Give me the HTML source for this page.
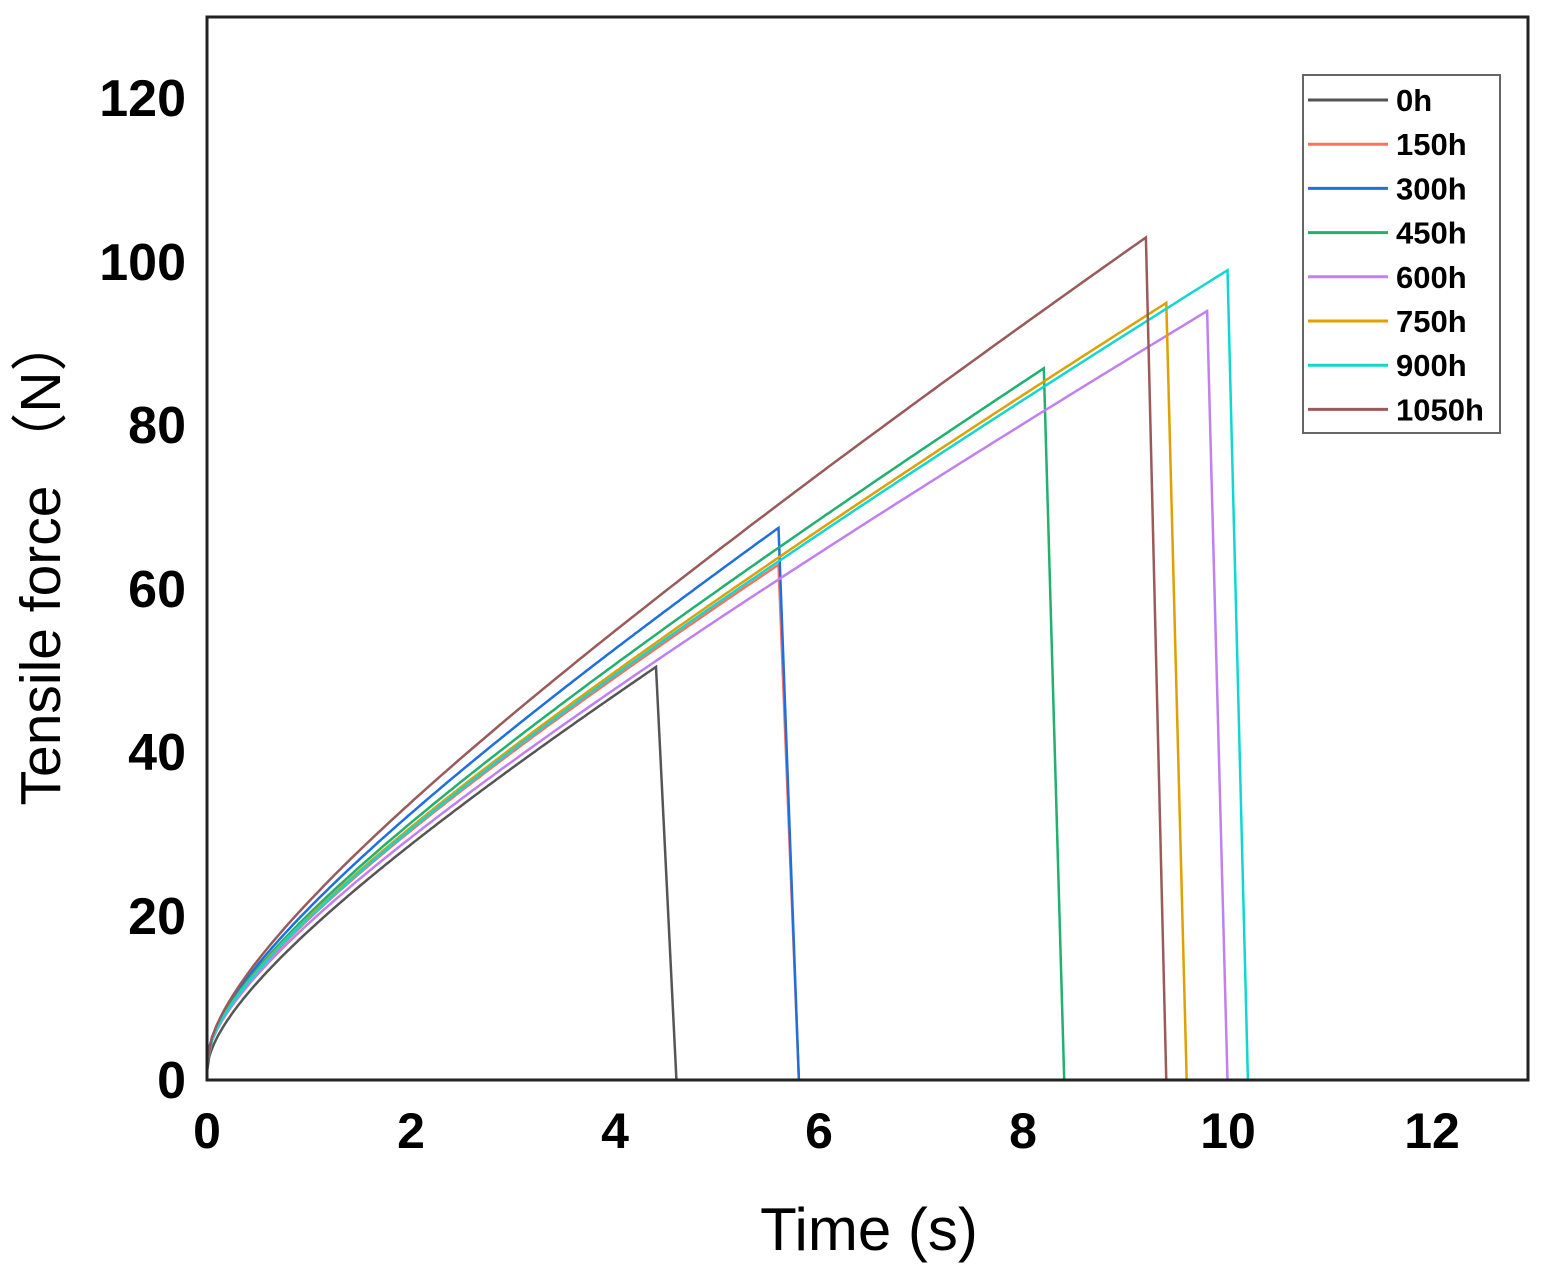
<!DOCTYPE html>
<html><head><meta charset="utf-8"><style>
body{margin:0;background:#fff;}
svg{display:block;font-family:"Liberation Sans",Arial,sans-serif;}
</style></head><body>
<svg id="s" width="1546" height="1273" xmlns="http://www.w3.org/2000/svg">
<g font-size="52" font-weight="bold" text-anchor="end" fill="#000">
<text x="186" y="1098">0</text><text x="186" y="934">20</text><text x="186" y="770">40</text>
<text x="186" y="607">60</text><text x="186" y="443">80</text><text x="186" y="280">100</text><text x="186" y="116">120</text>
</g>
<g font-size="50" font-weight="bold" text-anchor="middle" fill="#000">
<text x="207" y="1148">0</text><text x="411" y="1148">2</text><text x="615" y="1148">4</text>
<text x="819" y="1148">6</text><text x="1023" y="1148">8</text><text x="1228" y="1148">10</text><text x="1432" y="1148">12</text>
</g>
<text x="869" y="1250" font-size="60" text-anchor="middle">Time (s)</text>
<text transform="translate(60,560) rotate(-90)" font-size="57" text-anchor="middle" font-family="'Liberation Sans','Noto Sans CJK SC',sans-serif">Tensile force （N）</text>
<g id="curves" fill="none" stroke-width="2.5"></g>
<rect x="207" y="17" width="1321" height="1063" fill="none" stroke="#222" stroke-width="3"/>
<rect x="1303" y="75" width="197" height="358" fill="#fff" stroke="#666" stroke-width="2"/>
<g id="leg" font-size="31" font-weight="bold"></g>
</svg>
<script>
var X=function(t){return 207+t*102.05;},Y=function(f){return 1080-f*8.18;};
var S=[["0h","#555",4.4,50.5,4.6,1],["150h","#ff7060",5.6,63,5.8,2],["300h","#1e6fe0",5.6,67.5,5.8,2],
["450h","#20b070",8.2,87,8.4,2],["600h","#c080f0",9.8,94,10.0,2],["750h","#e0a000",9.4,95,9.6,2],
["900h","#10d8d0",10.0,99,10.2,2],["1050h","#9a5a5a",9.2,103,9.4,2]];
var gf=function(t){return Math.sqrt(t)+0.5*t;};
var g=document.getElementById('curves'),lg=document.getElementById('leg'),ns="http://www.w3.org/2000/svg";
S.forEach(function(s,i){
 var tp=s[2],fp=s[3],c=s[5],k=(fp-c)/gf(tp),d="";
 for(var n=0;n<=200;n++){var t=tp*n/200,f=c+k*gf(t);d+=(n?"L":"M")+X(t).toFixed(1)+","+Y(f).toFixed(1);}
 d+="L"+X(s[4])+","+Y(0)+"L"+X(11.2)+","+Y(0);
 var e=document.createElementNS(ns,"path");e.setAttribute("d",d);e.setAttribute("stroke",s[1]);g.appendChild(e);
 var y=100+i*44.2;
 var l=document.createElementNS(ns,"line");l.setAttribute("x1",1308);l.setAttribute("x2",1388);l.setAttribute("y1",y);l.setAttribute("y2",y);l.setAttribute("stroke",s[1]);l.setAttribute("stroke-width",3);lg.appendChild(l);
 var tx=document.createElementNS(ns,"text");tx.setAttribute("x",1396);tx.setAttribute("y",y+11);tx.textContent=s[0];lg.appendChild(tx);
});
</script>
</body></html>
